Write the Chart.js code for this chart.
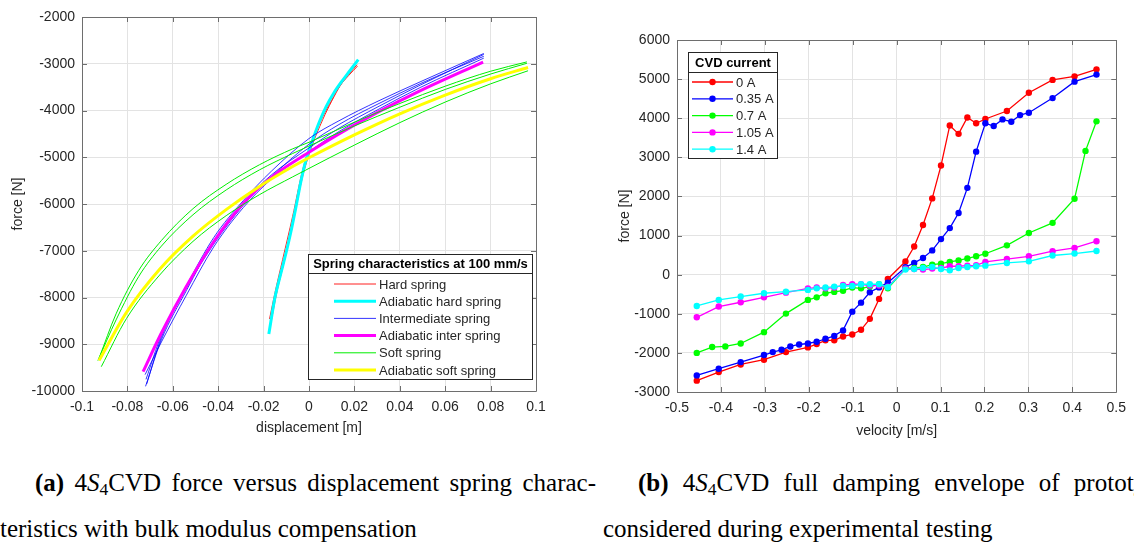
<!DOCTYPE html>
<html>
<head>
<meta charset="utf-8">
<script src="https://cdn.jsdelivr.net/npm/chart.js@4.4.0/dist/chart.umd.min.js"></script>
<style>
  html, body { margin: 0; padding: 0; background: #fff; }
  body { width: 1134px; height: 543px; position: relative; overflow: hidden; }
  canvas { position: absolute; top: 0; }
  #springChart { left: 0; }
  #dampChart { left: 590px; }
  .cap { position: absolute; font-family: "Liberation Serif", "Times New Roman", serif; font-size: 25px; color: #000; white-space: nowrap; line-height: 1; }
  .cap sub { font-size: 70%; vertical-align: -0.25em; line-height: 0; }
  .just { text-align: justify; text-align-last: justify; }
</style>
</head>
<body>
<canvas id="springChart" width="560" height="440"></canvas>
<canvas id="dampChart" width="544" height="440"></canvas>
<div class="cap just" style="left:35px;top:470px;width:561px"><b>(a)</b> 4<i>S</i><sub>4</sub>CVD force versus displacement spring charac-</div>
<div class="cap" style="left:0;top:516px">teristics with bulk modulus compensation</div>
<div class="cap" style="left:638px;top:470px;word-spacing:8px"><b>(b)</b> 4<i>S</i><sub>4</sub>CVD full damping envelope of prototype</div>
<div class="cap" style="left:603px;top:516px">considered during experimental testing</div>
<script>
// ---------- spring characteristics: [displacement m, force N] ----------
const dispTicks = [-0.1, -0.08, -0.06, -0.04, -0.02, 0, 0.02, 0.04, 0.06, 0.08, 0.1];
const springForceTicks = [-10000, -9000, -8000, -7000, -6000, -5000, -4000, -3000, -2000];
const springNames = ['Hard spring', 'Adiabatic hard spring', 'Intermediate spring',
  'Adiabatic inter spring', 'Soft spring', 'Adiabatic soft spring'];

const hardA = [[-0.0174,-8460],[-0.0150,-7900],[-0.0116,-7184],[-0.0072,-6262],[-0.0028,-5270],
  [0.0009,-4700],[0.0060,-4135],[0.0100,-3780],[0.0133,-3496],[0.0175,-3250],[0.0214,-3050]];
const hardB = [[-0.0170,-8600],[-0.0140,-7850],[-0.0110,-7250],[-0.0070,-6400],[-0.0030,-5450],
  [0.0010,-4800],[0.0060,-4200],[0.0100,-3800],[0.0140,-3450],[0.0180,-3200],[0.0212,-3020]];
const hardAdiabatic = [[-0.0177,-8780],[-0.0150,-8000],[-0.0125,-7500],[-0.0101,-7043],[-0.0080,-6600],
  [-0.0057,-6050],[-0.0035,-5500],[-0.0013,-5057],[0.0016,-4631],[0.0045,-4250],[0.0075,-3922],
  [0.0110,-3620],[0.0148,-3355],[0.0180,-3150],[0.0217,-2910]];

const interA = [[-0.0720,-9900],[-0.0650,-8900],[-0.0540,-7850],[-0.0420,-6800],[-0.0290,-5980],
  [-0.0166,-5380],[0,-4800],[0.0132,-4380],[0.0304,-3920],[0.0493,-3450],[0.0770,-2800]];
const interB = [[-0.0718,-9750],[-0.0650,-8800],[-0.0540,-7750],[-0.0420,-6720],[-0.0290,-5930],
  [-0.0166,-5300],[0,-4600],[0.0132,-4220],[0.0304,-3800],[0.0493,-3380],[0.0770,-2780]];
const interC = [[-0.0722,-9650],[-0.0650,-8950],[-0.0540,-7950],[-0.0420,-6920],[-0.0290,-6080],
  [-0.0166,-5470],[0,-4880],[0.0132,-4450],[0.0304,-3980],[0.0493,-3500],[0.0770,-2880]];
const interD = [[-0.0715,-9850],[-0.0650,-8850],[-0.0540,-7800],[-0.0420,-6860],[-0.0290,-6030],
  [-0.0166,-5420],[0,-4720],[0.0132,-4300],[0.0304,-3860],[0.0493,-3420],[0.0770,-2840]];
const interAdiabatic = [[-0.0731,-9586],[-0.0653,-8786],[-0.0543,-7786],[-0.0417,-6786],[-0.0292,-6000],
  [-0.0166,-5429],[0,-4893],[0.0132,-4500],[0.0304,-4036],[0.0493,-3571],[0.0767,-2964]];

const softA = [[-0.0925,-9300],[-0.0850,-8350],[-0.0750,-7420],[-0.0650,-6780],[-0.0511,-6100],
  [-0.0365,-5580],[-0.0218,-5160],[-0.0072,-4820],[0,-4680],[0.0200,-4250],[0.0400,-3850],
  [0.0600,-3480],[0.0800,-3160],[0.0960,-2960]];
const softB = [[-0.0915,-9480],[-0.0804,-8450],[-0.0658,-7520],[-0.0511,-6800],[-0.0365,-6250],
  [-0.0218,-5800],[-0.0072,-5420],[0.0075,-5050],[0.0200,-4740],[0.0400,-4260],[0.0600,-3820],
  [0.0800,-3430],[0.0965,-3150]];
const softC = [[-0.0930,-9350],[-0.0850,-8480],[-0.0750,-7550],[-0.0650,-6900],[-0.0511,-6230],
  [-0.0365,-5700],[-0.0218,-5270],[-0.0072,-4920],[0,-4760],[0.0200,-4330],[0.0400,-3930],
  [0.0600,-3550],[0.0800,-3220],[0.0960,-2990]];
const softAdiabatic = [[-0.0925,-9350],[-0.0804,-8319],[-0.0658,-7397],[-0.0511,-6688],[-0.0365,-6120],
  [-0.0218,-5624],[-0.0072,-5199],[0,-5010],[0.0200,-4520],[0.0400,-4070],[0.0600,-3670],
  [0.0800,-3320],[0.0965,-3080]];

// ---------- damping envelope: velocity m/s vs force N per CVD current ----------
const velTicks = [-0.5, -0.4, -0.3, -0.2, -0.1, 0, 0.1, 0.2, 0.3, 0.4, 0.5];
const dampForceTicks = [-3000, -2000, -1000, 0, 1000, 2000, 3000, 4000, 5000, 6000];
const currentNames = ['0 A', '0.35 A', '0.7 A', '1.05 A', '1.4 A'];

const vel0 = [-0.455,-0.405,-0.355,-0.302,-0.252,-0.202,-0.182,-0.162,-0.142,-0.122,-0.101,-0.081,-0.061,-0.040,-0.020,
  0.020,0.040,0.060,0.081,0.101,0.121,0.141,0.161,0.181,0.202,0.251,0.301,0.355,0.405,0.455];
const force0 = [-2710,-2490,-2295,-2175,-1980,-1860,-1775,-1680,-1680,-1580,-1530,-1410,-1130,-620,-110,
  335,720,1270,1950,2790,3815,3600,4020,3870,3980,4185,4650,4980,5070,5250];
const vel35 = [-0.455,-0.405,-0.355,-0.302,-0.282,-0.262,-0.242,-0.222,-0.202,-0.182,-0.162,-0.142,-0.122,-0.101,-0.081,-0.061,-0.040,-0.020,
  0.020,0.040,0.060,0.081,0.101,0.121,0.141,0.161,0.181,0.202,0.221,0.241,0.261,0.281,0.301,0.355,0.405,0.455];
const force35 = [-2575,-2405,-2235,-2055,-1980,-1920,-1835,-1785,-1760,-1715,-1640,-1565,-1425,-945,-715,-450,-325,-205,
  190,300,425,620,910,1190,1575,2220,3145,3870,3800,3970,3910,4080,4140,4515,4935,5115];
const vel70 = [-0.455,-0.420,-0.390,-0.355,-0.302,-0.252,-0.202,-0.182,-0.162,-0.142,-0.122,-0.101,-0.081,-0.061,-0.040,-0.020,
  0.020,0.040,0.060,0.081,0.101,0.121,0.141,0.161,0.181,0.202,0.251,0.301,0.355,0.405,0.430,0.455];
const force70 = [-2000,-1850,-1835,-1760,-1470,-995,-645,-580,-475,-440,-410,-330,-350,-305,-245,-350,
  155,170,195,255,280,325,365,415,470,535,750,1065,1325,1940,3165,3920];
const vel105 = vel0;
const force105 = [-1090,-815,-705,-580,-460,-350,-330,-350,-330,-265,-245,-245,-280,-280,-305,
  150,145,130,155,170,215,215,230,240,325,400,470,600,685,855];
const vel140 = vel0;
const force140 = [-800,-645,-560,-475,-435,-390,-350,-330,-305,-290,-290,-245,-245,-245,-320,
  130,145,170,195,145,110,170,195,215,230,300,340,490,540,605];

// ---------- shared look ----------
const txtColor = '#262626';
const axisColor = '#6e6e6e';
const gridColor = '#e3e3e3';
const tickFont = { family: '"Liberation Sans", Arial, Helvetica, sans-serif', size: 14 };
const legendFont = '13px "Liberation Sans", Arial, sans-serif';
const legendTitleFont = 'bold 13px "Liberation Sans", Arial, sans-serif';

// axis box with inward tick marks on all four sides
const axisBox = {
  id: 'axisBox',
  beforeDatasetsDraw(chart) {
    const { ctx, chartArea: a, scales } = chart;
    ctx.save();
    ctx.strokeStyle = axisColor;
    ctx.lineWidth = 1;
    ctx.beginPath();
    ctx.rect(Math.round(a.left) + 0.5, Math.round(a.top) + 0.5,
      Math.round(a.right - a.left), Math.round(a.bottom - a.top));
    const len = 5;
    scales.x.ticks.forEach(t => {
      const px = Math.round(scales.x.getPixelForValue(t.value)) + 0.5;
      ctx.moveTo(px, a.bottom); ctx.lineTo(px, a.bottom - len);
      ctx.moveTo(px, a.top); ctx.lineTo(px, a.top + len);
    });
    scales.y.ticks.forEach(t => {
      const py = Math.round(scales.y.getPixelForValue(t.value)) + 0.5;
      ctx.moveTo(a.left, py); ctx.lineTo(a.left + len, py);
      ctx.moveTo(a.right, py); ctx.lineTo(a.right - len, py);
    });
    ctx.stroke();
    ctx.restore();
  }
};

// boxed legend with a bold title row
const boxLegend = {
  id: 'boxLegend',
  afterDraw(chart, args, o) {
    const ctx = chart.ctx;
    const items = chart.data.datasets.filter(d => d.label);
    ctx.save();
    ctx.fillStyle = '#fff';
    ctx.fillRect(o.x, o.y, o.w, o.h);
    ctx.strokeStyle = '#262626';
    ctx.lineWidth = 1;
    ctx.strokeRect(o.x + 0.5, o.y + 0.5, o.w, o.h);
    ctx.beginPath();
    ctx.moveTo(o.x, o.y + o.titleH + 0.5);
    ctx.lineTo(o.x + o.w, o.y + o.titleH + 0.5);
    ctx.stroke();
    ctx.fillStyle = '#000';
    ctx.font = legendTitleFont;
    ctx.textAlign = 'center';
    ctx.textBaseline = 'middle';
    ctx.fillText(o.title, o.x + o.w / 2 + 0.5, o.y + o.titleH / 2 + 1);
    ctx.font = legendFont;
    ctx.textAlign = 'left';
    items.forEach((d, i) => {
      const cy = o.y + o.titleH + o.firstRow + i * o.rowH;
      ctx.strokeStyle = d.borderColor;
      ctx.lineWidth = d.borderWidth;
      ctx.beginPath();
      ctx.moveTo(o.x + o.line0, cy);
      ctx.lineTo(o.x + o.line1, cy);
      ctx.stroke();
      if (d.pointRadius) {
        ctx.fillStyle = d.borderColor;
        ctx.beginPath();
        ctx.arc(o.x + (o.line0 + o.line1) / 2, cy, d.pointRadius, 0, Math.PI * 2);
        ctx.fill();
      }
      ctx.fillStyle = txtColor;
      ctx.fillText(d.label, o.x + o.textX, cy + 1);
    });
    ctx.restore();
  }
};

function linearAxis(min, max, tickValues, title, fitSize, horizontal, titlePad) {
  return {
    type: 'linear', min, max,
    afterBuildTicks: s => { s.ticks = tickValues.map(v => ({ value: v })); },
    afterFit: s => { if (horizontal) s.height = fitSize; else s.width = fitSize; },
    grid: { color: gridColor, drawTicks: false, lineWidth: 1 },
    border: { display: false },
    ticks: { font: tickFont, color: txtColor, padding: horizontal ? 8 : 7, autoSkip: false,
      maxRotation: 0, callback: v => String(v) },
    title: { display: true, text: title, font: tickFont, color: txtColor, padding: titlePad }
  };
}

function pts(list) { return list.map(p => ({ x: p[0], y: p[1] })); }

function springLine(points, color, width, order, label) {
  return { label, data: pts(points), borderColor: color, borderWidth: width, pointRadius: 0,
    showLine: true, fill: false, cubicInterpolationMode: 'monotone', order };
}

new Chart(document.getElementById('springChart'), {
  type: 'scatter',
  data: {
    datasets: [
      springLine(hardA, '#ff2020', 1, -1, springNames[0]),
      springLine(hardB, '#ff2020', 1, -1),
      springLine(hardAdiabatic, '#00ffff', 3, -2, springNames[1]),
      springLine(interA, '#0000ff', 0.8, -3, springNames[2]),
      springLine(interB, '#0000ff', 0.8, -3),
      springLine(interC, '#0000ff', 0.8, -3),
      springLine(interD, '#0000ff', 0.8, -3),
      springLine(interAdiabatic, '#ff00ff', 3, -4, springNames[3]),
      springLine(softA, '#00ee00', 1, -5, springNames[4]),
      springLine(softB, '#00ee00', 1, -5),
      springLine(softC, '#00ee00', 1, -5),
      springLine(softAdiabatic, '#ffff00', 3, -6, springNames[5])
    ]
  },
  options: {
    responsive: false,
    animation: false,
    events: [],
    layout: { padding: { top: 17, right: 24, left: 0, bottom: 0 } },
    scales: {
      x: linearAxis(-0.1, 0.1, dispTicks, 'displacement [m]', 49, true, { top: 4, bottom: 3 }),
      y: linearAxis(-10000, -2000, springForceTicks, 'force [N]', 82, false, { top: 10, bottom: 0 })
    },
    plugins: {
      legend: { display: false },
      tooltip: { enabled: false },
      boxLegend: { title: 'Spring characteristics at 100 mm/s', x: 308, y: 254, w: 224, h: 125,
        titleH: 19, firstRow: 11, rowH: 17.2, line0: 26, line1: 68, textX: 71 }
    }
  },
  plugins: [axisBox, boxLegend]
});

function dampLine(vel, force, color, order, label) {
  return { label, data: vel.map((v, i) => ({ x: v, y: force[i] })), borderColor: color,
    backgroundColor: color, borderWidth: 1.3, pointRadius: 3.2, pointBorderWidth: 0,
    pointBackgroundColor: color, showLine: true, fill: false, order };
}

new Chart(document.getElementById('dampChart'), {
  type: 'scatter',
  data: {
    datasets: [
      dampLine(vel0, force0, '#ff0000', -1, currentNames[0]),
      dampLine(vel35, force35, '#0000ff', -2, currentNames[1]),
      dampLine(vel70, force70, '#00ff00', -3, currentNames[2]),
      dampLine(vel105, force105, '#ff00ff', -4, currentNames[3]),
      dampLine(vel140, force140, '#00ffff', -5, currentNames[4])
    ]
  },
  options: {
    responsive: false,
    animation: false,
    events: [],
    layout: { padding: { top: 40, right: 11, left: 0, bottom: 0 } },
    scales: {
      x: linearAxis(-0.5, 0.5, velTicks, 'velocity [m/s]', 48, true, { top: 4, bottom: 0 }),
      y: linearAxis(-3000, 6000, dampForceTicks, 'force [N]', 87, false, { top: 27, bottom: 0 })
    },
    plugins: {
      legend: { display: false },
      tooltip: { enabled: false },
      boxLegend: { title: 'CVD current', x: 98, y: 52, w: 89, h: 106,
        titleH: 20, firstRow: 10, rowH: 16.8, line0: 4, line1: 45, textX: 48 }
    }
  },
  plugins: [axisBox, boxLegend]
});
</script>
</body>
</html>
